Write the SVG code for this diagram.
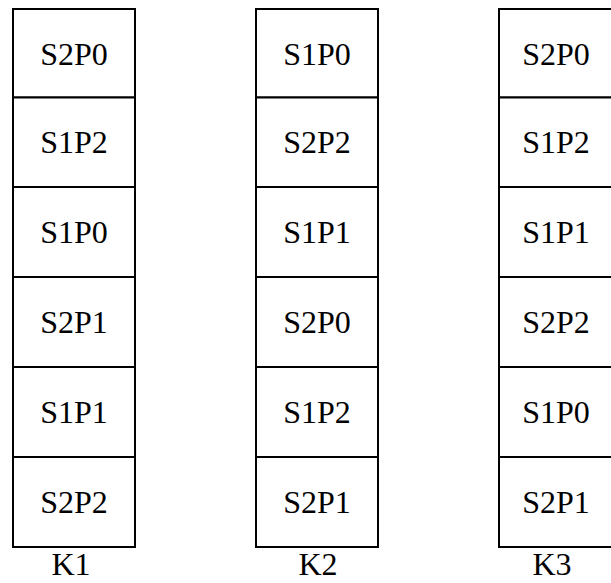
<svg xmlns="http://www.w3.org/2000/svg" width="611" height="583" viewBox="0 0 611 583">
<style>
.cell{fill:#fff;stroke:#000;stroke-width:2}
.t{font-family:"Liberation Serif","Times New Roman",serif;font-size:32px;fill:#000;text-anchor:middle}
</style>
<rect width="611" height="583" fill="#fff"/>
<g id="K1">
<g id="K1-r1"><rect class="cell" x="13" y="9" width="122" height="88.5"/><text class="t" x="74" y="65">S2P0</text></g>
<g id="K1-r2"><rect class="cell" x="13" y="97.5" width="122" height="89.5"/><text class="t" x="74" y="153">S1P2</text></g>
<g id="K1-r3"><rect class="cell" x="13" y="187" width="122" height="90"/><text class="t" x="74" y="243">S1P0</text></g>
<g id="K1-r4"><rect class="cell" x="13" y="277" width="122" height="90"/><text class="t" x="74" y="333">S2P1</text></g>
<g id="K1-r5"><rect class="cell" x="13" y="367" width="122" height="90"/><text class="t" x="74" y="423">S1P1</text></g>
<g id="K1-r6"><rect class="cell" x="13" y="457" width="122" height="90"/><text class="t" x="74" y="513">S2P2</text></g>
<text class="t" x="71" y="575">K1</text>
</g>
<g id="K2">
<g id="K2-r1"><rect class="cell" x="256" y="9" width="122" height="88.5"/><text class="t" x="317" y="65">S1P0</text></g>
<g id="K2-r2"><rect class="cell" x="256" y="97.5" width="122" height="89.5"/><text class="t" x="317" y="153">S2P2</text></g>
<g id="K2-r3"><rect class="cell" x="256" y="187" width="122" height="90"/><text class="t" x="317" y="243">S1P1</text></g>
<g id="K2-r4"><rect class="cell" x="256" y="277" width="122" height="90"/><text class="t" x="317" y="333">S2P0</text></g>
<g id="K2-r5"><rect class="cell" x="256" y="367" width="122" height="90"/><text class="t" x="317" y="423">S1P2</text></g>
<g id="K2-r6"><rect class="cell" x="256" y="457" width="122" height="90"/><text class="t" x="317" y="513">S2P1</text></g>
<text class="t" x="318" y="575">K2</text>
</g>
<g id="K3">
<g id="K3-r1"><rect class="cell" x="499" y="9" width="122" height="88.5"/><text class="t" x="556" y="65">S2P0</text></g>
<g id="K3-r2"><rect class="cell" x="499" y="97.5" width="122" height="89.5"/><text class="t" x="556" y="153">S1P2</text></g>
<g id="K3-r3"><rect class="cell" x="499" y="187" width="122" height="90"/><text class="t" x="556" y="243">S1P1</text></g>
<g id="K3-r4"><rect class="cell" x="499" y="277" width="122" height="90"/><text class="t" x="556" y="333">S2P2</text></g>
<g id="K3-r5"><rect class="cell" x="499" y="367" width="122" height="90"/><text class="t" x="556" y="423">S1P0</text></g>
<g id="K3-r6"><rect class="cell" x="499" y="457" width="122" height="90"/><text class="t" x="556" y="513">S2P1</text></g>
<text class="t" x="552" y="575">K3</text>
</g>
</svg>
